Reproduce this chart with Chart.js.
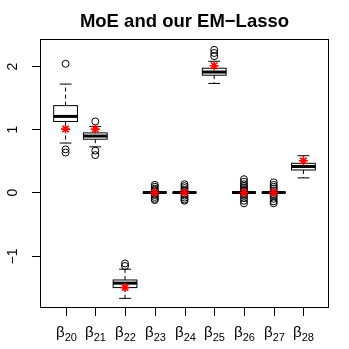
<!DOCTYPE html>
<html>
<head>
<meta charset="utf-8">
<script src="https://cdn.jsdelivr.net/npm/chart.js@4/dist/chart.umd.min.js"></script>
<style>
  body { margin: 0; background: #fff; }
  #wrap { width: 349px; height: 349px; }
</style>
</head>
<body>
<div id="wrap"><canvas id="c" width="349" height="349"></canvas></div>
<script>
// subscripts of beta
const indici = ['20', '21', '22', '23', '24', '25', '26', '27', '28'];
const yTicks = [-1, 0, 1, 2];

// box statistics
const mustataJos = [0.78, 0.72, -1.67, 0, 0, 1.72, 0, 0, 0.23];
const q1 = [1.12, 0.84, -1.50, 0, 0, 1.85, 0, 0, 0.355];
const mediana = [1.20, 0.89, -1.43, 0, 0, 1.90, 0, 0, 0.41];
const q3 = [1.37, 0.94, -1.38, 0, 0, 1.96, 0, 0, 0.46];
const mustataSus = [1.71, 1.04, -1.21, 0, 0, 2.07, 0, 0, 0.58];

// outliers per box
const aberante = [
    [2.03, 0.68, 0.63],
    [1.12, 0.66, 0.59],
    [-1.12, -1.16],
    [0.12, 0.09, 0.06, 0.04, 0.02, -0.02, -0.04, -0.07, -0.10, -0.12],
    [0.13, 0.10, 0.07, 0.04, 0.02, -0.02, -0.05, -0.08, -0.11, -0.13],
    [2.25, 2.20, 2.15],
    [0.21, 0.17, 0.13, 0.10, 0.07, 0.04, 0.02, -0.02, -0.05, -0.09, -0.13, -0.17],
    [0.16, 0.12, 0.09, 0.06, 0.03, -0.03, -0.06, -0.10, -0.14, -0.17],
    []
];

// true coefficients (red stars)
const valoriReale = [1, 1, -1.5, 0, 0, 2, 0, 0, 0.5];

const puncteAberante = [];
aberante.forEach((lista, i) => lista.forEach(v => puncteAberante.push({ x: i + 1, y: v })));
const puncteStele = valoriReale.map((v, i) => ({ x: i + 1, y: v }));

const boxPlugin = {
    id: 'boxuri',
    beforeDatasetsDraw(chart) {
        const ctx = chart.ctx;
        const xs = chart.scales.x, ys = chart.scales.y;
        const jum = xs.getPixelForValue(1.4) - xs.getPixelForValue(1);
        ctx.save();
        ctx.strokeStyle = '#000';
        for (let i = 0; i < indici.length; i++) {
            const x = xs.getPixelForValue(i + 1);
            const yLo = ys.getPixelForValue(mustataJos[i]);
            const yQ1 = ys.getPixelForValue(q1[i]);
            const yMed = ys.getPixelForValue(mediana[i]);
            const yQ3 = ys.getPixelForValue(q3[i]);
            const yHi = ys.getPixelForValue(mustataSus[i]);
            // whiskers (dashed)
            ctx.lineWidth = 1;
            ctx.setLineDash([4, 3]);
            ctx.beginPath();
            ctx.moveTo(x, yQ3); ctx.lineTo(x, yHi);
            ctx.moveTo(x, yQ1); ctx.lineTo(x, yLo);
            ctx.stroke();
            ctx.setLineDash([]);
            // staples
            ctx.beginPath();
            ctx.moveTo(x - jum / 2, yHi); ctx.lineTo(x + jum / 2, yHi);
            ctx.moveTo(x - jum / 2, yLo); ctx.lineTo(x + jum / 2, yLo);
            ctx.stroke();
            // box
            ctx.fillStyle = '#fff';
            ctx.fillRect(x - jum, yQ3, 2 * jum, yQ1 - yQ3);
            ctx.strokeRect(x - jum, yQ3, 2 * jum, yQ1 - yQ3);
            // median
            ctx.lineWidth = 3;
            ctx.beginPath();
            ctx.moveTo(x - jum, yMed); ctx.lineTo(x + jum, yMed);
            ctx.stroke();
        }
        ctx.restore();
    },
    afterDraw(chart) {
        const ctx = chart.ctx;
        const a = chart.chartArea;
        const xs = chart.scales.x, ys = chart.scales.y;
        ctx.save();
        ctx.strokeStyle = '#000';
        ctx.fillStyle = '#000';
        ctx.lineWidth = 1;
        ctx.strokeRect(a.left + 0.5, a.top + 0.5, a.right - a.left - 1, a.bottom - a.top - 1);

        // title
        ctx.font = 'bold 18.5px "Liberation Sans", Arial, sans-serif';
        ctx.textAlign = 'center';
        ctx.textBaseline = 'alphabetic';
        ctx.fillText('MoE and our EM\u2212Lasso', (a.left + a.right) / 2, 27);

        // y axis
        ctx.font = '14px "Liberation Sans", Arial, sans-serif';
        yTicks.forEach(t => {
            const y = Math.round(ys.getPixelForValue(t)) + 0.5;
            ctx.beginPath();
            ctx.moveTo(a.left, y); ctx.lineTo(a.left - 8, y);
            ctx.stroke();
            ctx.save();
            ctx.translate(13, y);
            ctx.rotate(-Math.PI / 2);
            ctx.textAlign = 'center';
            ctx.textBaseline = 'middle';
            ctx.fillText(String(t).replace('-', '\u2212'), 0, 0);
            ctx.restore();
        });

        // x axis
        indici.forEach((s, i) => {
            const x = Math.round(xs.getPixelForValue(i + 1)) + 0.5;
            ctx.beginPath();
            ctx.moveTo(x, a.bottom); ctx.lineTo(x, a.bottom + 8);
            ctx.stroke();
            ctx.font = '15px "Liberation Sans", Arial, sans-serif';
            const wB = ctx.measureText('\u03b2').width;
            ctx.font = '11px "Liberation Sans", Arial, sans-serif';
            const wS = ctx.measureText(s).width;
            const x0 = x - (wB + wS) / 2;
            ctx.textAlign = 'left';
            ctx.textBaseline = 'alphabetic';
            ctx.font = '15px "Liberation Sans", Arial, sans-serif';
            ctx.fillText('\u03b2', x0, 337);
            ctx.font = '11px "Liberation Sans", Arial, sans-serif';
            ctx.fillText(s, x0 + wB, 341);
        });
        ctx.restore();
    }
};

new Chart(document.getElementById('c'), {
    type: 'scatter',
    data: {
        datasets: [
            {
                label: 'real',
                data: puncteStele,
                pointStyle: 'star',
                pointRadius: 4.5,
                borderColor: '#ff0000',
                backgroundColor: '#ff0000',
                borderWidth: 1.6,
                order: 0
            },
            {
                label: 'aberante',
                data: puncteAberante,
                pointStyle: 'circle',
                pointRadius: 3.5,
                borderColor: '#000',
                backgroundColor: 'rgba(0,0,0,0)',
                borderWidth: 1,
                order: 1
            }
        ]
    },
    options: {
        responsive: false,
        animation: false,
        clip: false,
        layout: { padding: { left: 40, right: 20, top: 39, bottom: 41 } },
        plugins: { legend: { display: false }, tooltip: { enabled: false } },
        scales: {
            x: { type: 'linear', min: 0.14, max: 9.86, display: false },
            y: { type: 'linear', min: -1.822, max: 2.421, display: false }
        }
    },
    plugins: [boxPlugin]
});
</script>
</body>
</html>
